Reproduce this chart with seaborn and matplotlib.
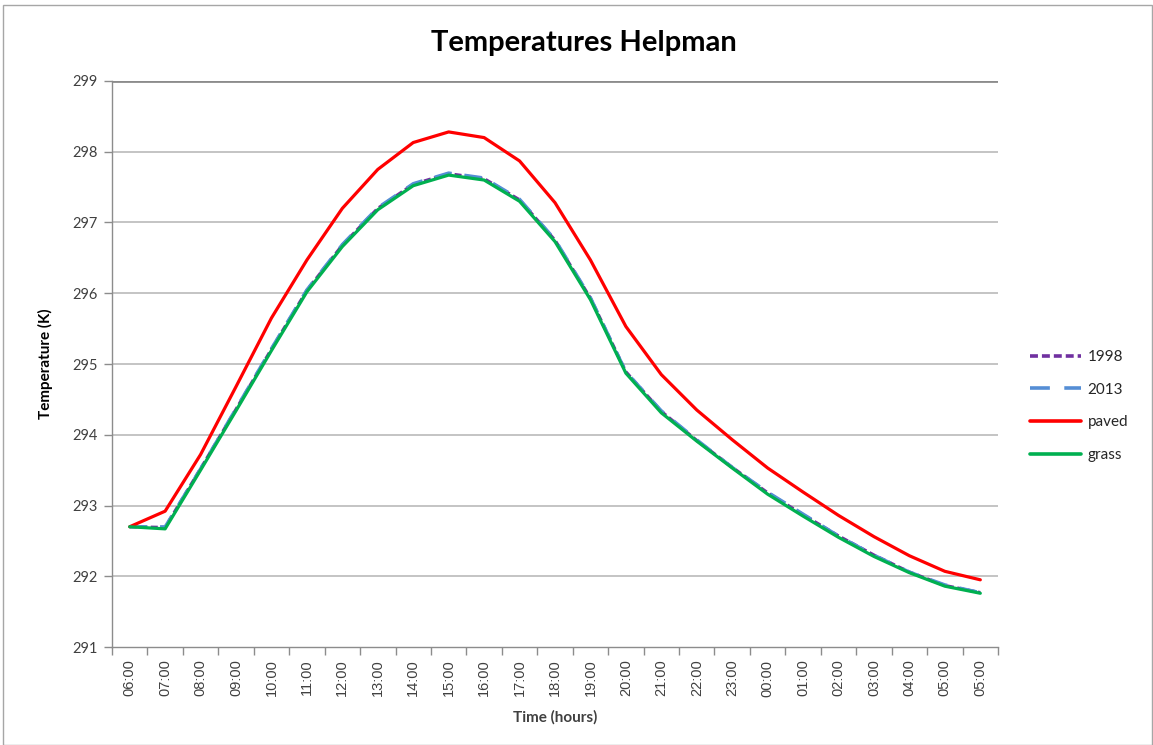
import matplotlib
matplotlib.use("Agg")
import matplotlib.pyplot as plt
import numpy as np
import pandas as pd
import seaborn as sns
from matplotlib.patches import Rectangle

# Hourly categories along the time axis
hours = ["06:00", "07:00", "08:00", "09:00", "10:00", "11:00", "12:00", "13:00",
         "14:00", "15:00", "16:00", "17:00", "18:00", "19:00", "20:00", "21:00",
         "22:00", "23:00", "00:00", "01:00", "02:00", "03:00", "04:00", "05:00",
         "05:00"]

# Air temperature (K) per scenario
temp_1998 = [292.70, 292.69, 293.52, 294.36, 295.21, 296.04, 296.68, 297.20, 297.54,
             297.69, 297.62, 297.32, 296.75, 295.93, 294.89, 294.33, 293.92, 293.54,
             293.18, 292.87, 292.57, 292.30, 292.06, 291.87, 291.77]
temp_2013 = [292.70, 292.70, 293.52, 294.37, 295.22, 296.05, 296.69, 297.21, 297.55,
             297.70, 297.63, 297.33, 296.76, 295.94, 294.89, 294.34, 293.93, 293.54,
             293.19, 292.88, 292.57, 292.30, 292.06, 291.88, 291.77]
temp_paved = [292.70, 292.92, 293.72, 294.68, 295.65, 296.47, 297.20, 297.75, 298.13,
              298.28, 298.20, 297.87, 297.28, 296.47, 295.53, 294.85, 294.35, 293.93,
              293.53, 293.19, 292.86, 292.56, 292.29, 292.07, 291.95]
temp_grass = [292.70, 292.67, 293.50, 294.34, 295.19, 296.02, 296.66, 297.18, 297.52,
              297.67, 297.60, 297.30, 296.73, 295.91, 294.87, 294.31, 293.91, 293.53,
              293.16, 292.85, 292.55, 292.28, 292.05, 291.86, 291.76]

series_names = ["1998", "2013", "paved", "grass"]
y_ticks = [291, 292, 293, 294, 295, 296, 297, 298, 299]

pos = np.arange(len(hours))
df = pd.concat([
    pd.DataFrame({"pos": pos, "temp": vals, "series": name})
    for name, vals in zip(series_names, [temp_1998, temp_2013, temp_paved, temp_grass])
], ignore_index=True)

sns.set_theme(style="white")
plt.rcParams["font.family"] = ["Lato", "DejaVu Sans"]

fig = plt.figure(figsize=(11.53, 7.45), dpi=100)
ax = fig.add_axes([0.0971, 0.1315, 0.7685, 0.7598])

palette = {"1998": "#7030A0", "2013": "#558ED5", "paved": "#FF0000", "grass": "#00B050"}
dashes = {"1998": (2.2, 1.1), "2013": (5.5, 4.0), "paved": "", "grass": ""}

# horizontal gridlines
for v in y_ticks[1:-1]:
    ax.axhline(v, color="#BFBFBF", lw=1.3, zorder=0)
ax.axhline(y_ticks[-1], color="#8C8C8C", lw=2.0, zorder=0)

sns.lineplot(data=df, x="pos", y="temp", hue="series", style="series",
             hue_order=series_names, style_order=series_names,
             palette=palette, dashes=dashes, linewidth=2.3, ax=ax,
             sort=False, estimator=None)

ax.set_xlim(-0.5, len(hours) - 0.5)
ax.set_ylim(291, 299)
ax.set_yticks(y_ticks)
ax.set_yticklabels([str(t) for t in y_ticks], fontsize=10.5, color="#404040")
ax.set_xticks(pos)
ax.set_xticklabels(hours, rotation=90, fontsize=10.5, color="#404040",
                   family=["Liberation Sans", "DejaVu Sans"])
ax.set_xticks(np.arange(-0.5, len(hours)), minor=True)
ax.tick_params(axis="x", which="major", length=0, pad=9)
ax.tick_params(axis="x", which="minor", length=6, width=1, color="#8C8C8C",
               direction="out", bottom=True)
ax.tick_params(axis="y", length=6, width=1, color="#8C8C8C", direction="out",
               left=True, pad=4)

for side in ["top", "right"]:
    ax.spines[side].set_visible(False)
ax.spines["left"].set_color("#8C8C8C")
ax.spines["left"].set_linewidth(1.0)
ax.spines["bottom"].set_color("#8C8C8C")
ax.spines["bottom"].set_linewidth(1.0)

ax.set_xlabel("Time (hours)", fontsize=11, fontweight="bold", color="#404040",
              labelpad=10)
ax.set_ylabel("Temperature (K)", fontsize=11, fontweight="bold", color="black",
              labelpad=14)

fig.text(0.506, 0.942, "Temperatures Helpman", ha="center", va="center",
         fontsize=21, fontweight="bold", color="black")

sns.move_legend(ax, loc="center left", bbox_to_anchor=(1.02, 0.426), frameon=False,
                title=None, fontsize=11, handlelength=3.4, labelspacing=1.22,
                handletextpad=0.4)
for line in ax.get_legend().get_lines():
    line.set_linewidth(2.6)

# outer chart border
fig.add_artist(Rectangle((0.003, 0.0), 0.996, 0.993, transform=fig.transFigure,
                         fill=False, edgecolor="#A6A6A6", lw=1.0))

fig.savefig("out.png", dpi=100)
